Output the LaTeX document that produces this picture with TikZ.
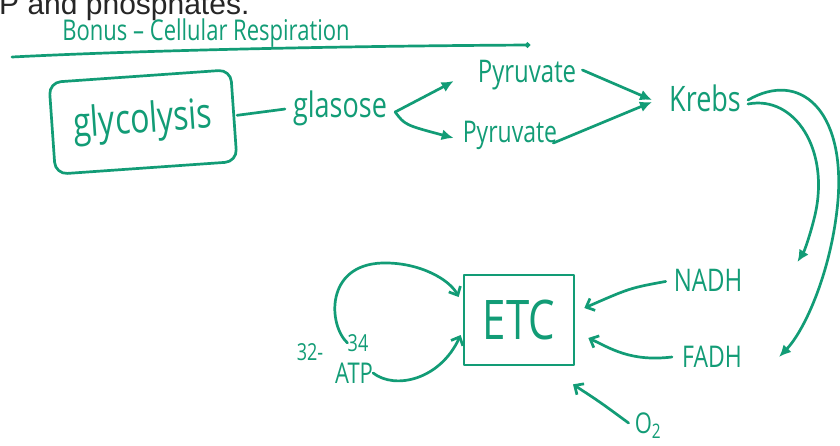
\documentclass[tikz,border=0pt]{standalone}
\usepackage{fontspec}
\setmainfont{Open Sans}
\newfontfamily\printfont{Liberation Sans}
\usetikzlibrary{arrows.meta,calc}
\definecolor{pen}{RGB}{18,156,118}
\newcommand\tall[1]{\scalebox{1}[1.3]{#1}}
\begin{document}
\begin{tikzpicture}[x=1pt,y=-1pt,
  hand/.style={text=pen, inner sep=0pt},
  wire/.style={draw=pen, line width=2.7pt, line cap=round, line join=round},
  fat/.style={wire, -{Latex[length=12pt,width=11pt]}},
  vee/.style={wire, -{Straight Barb[length=7pt,width=13pt]}},
  fs/.style={font=\fontsize{#1}{#1}\selectfont}]
\useasboundingbox (0,0) rectangle (840,445);
\clip (0,0) rectangle (840,445);
\fill[white] (0,0) rectangle (840,445);

% printed text cut at the top
\node[anchor=base west, inner sep=0pt, text=black!85, font=\printfont\fontsize{30}{30}\selectfont] (note) at (-1,14) {P and phosphates.};

% title
\node[hand, fs=22] (title) at (206,33) {\tall{Bonus – Cellular Respiration}};
\coordinate (u1) at (12,57);
\coordinate (u2) at (530,45);
\draw[wire, -{Circle[length=5pt]}] (u1) .. controls (150,50) and (350,46) .. (u2);

% nodes
\node[wire, rounded corners=12pt, rotate=4, minimum width=182pt, minimum height=92pt, text=pen, fs=32] (glyco) at (143,122) {\tall{glycolysis}};
\node[hand, fs=27] (glu) at (340,108) {\tall{glasose}};
\node[hand, fs=24] (pyr1) at (527,75) {\tall{Pyruvate}};
\node[hand, fs=23] (pyr2) at (510,135) {\tall{Pyruvate}};
\node[hand, fs=27] (krebs) at (705,98) {\tall{Krebs}};
\node[hand, fs=24] (nadh) at (708,280) {\tall{NADH}};
\node[hand, fs=23] (fadh) at (712,357) {\tall{FADH}};
\node[wire, minimum width=110pt, minimum height=90pt, text=pen, fs=42] (etc) at (519,320) {\tall{ETC}};
\node[hand, fs=22] (o2) at (648,426) {\tall{O\textsubscript{2}}};
\node[hand, fs=18] (n32) at (310,352) {\tall{32-}};
\node[hand, fs=18] (n34) at (358,343) {\tall{34}};
\node[hand, fs=22] (atp) at (354,373) {\tall{ATP}};

% connectors
\draw[wire, shorten <=2pt, shorten >=8pt] (glyco.east) -- (glu.west);
\draw[fat] ($(glu.east)+(8,4)$) .. controls (420,100) .. ($(pyr1.west)+(-24,6)$);
\draw[fat] ($(glu.east)+(8,4)$) .. controls (405,125) .. ($(pyr2.west)+(-9,3)$);
\draw[fat] ($(pyr1.east)+(6,-5)$) -- ($(krebs.west)+(-17,2)$);
\draw[fat] ($(pyr2.east)+(-4,8)$) -- ($(krebs.west)+(-17,4)$);

\draw[fat] ($(krebs.east)+(7,2)$) .. controls (800,70) and (845,110) .. (838,200)
   .. controls (832,270) and (805,330) .. ($(fadh.east)+(37,0)$);
\draw[fat] ($(krebs.east)+(7,6)$) .. controls (795,95) and (830,150) .. (815,215)
   .. controls (811,232) and (805,250) .. ($(nadh.east)+(55,-18)$);

\draw[vee, shorten <=8pt] (nadh.west) .. controls (630,288) .. ($(etc.east)+(9,-12)$);
\draw[vee] ($(fadh.west)+(-10,0)$) .. controls (630,362) and (610,348) .. ($(etc.east)+(13,18)$);
\draw[vee] ($(o2.west)+(-6,-3)$) .. controls (600,402) .. ($(etc.south)+(54,18)$);

\draw[vee] (n34.west) .. controls (328,325) and (325,265) .. (382,263)
   .. controls (420,262) and (450,280) .. ($(etc.west)+(-4,-23)$);
\draw[vee] (atp.east) .. controls (395,390) and (440,380) .. ($(etc.west)+(-2,15)$);
\end{tikzpicture}
\end{document}
